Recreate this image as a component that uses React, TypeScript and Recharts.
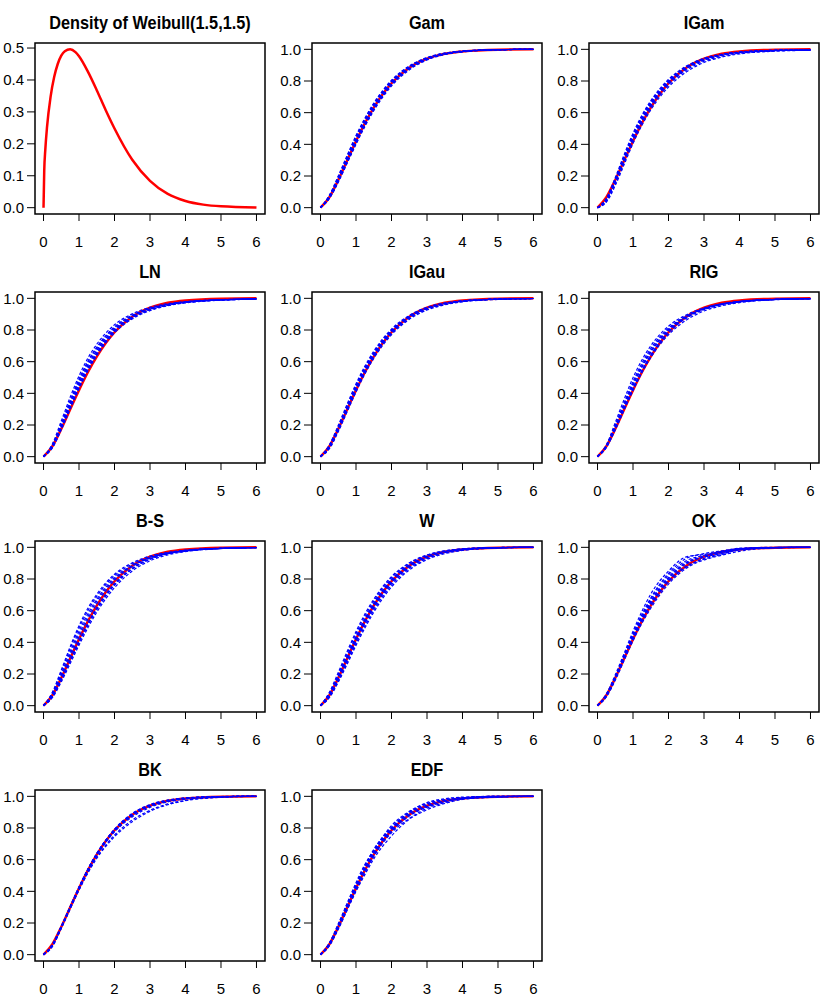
import React from "react";
import { LineChart, Line, XAxis, YAxis, ReferenceArea } from "recharts";

const FONT = '"Liberation Sans", Arial, Helvetica, sans-serif';

const xGrid = [0, 0.25, 0.5, 0.75, 1, 1.25, 1.5, 2, 2.5, 3, 3.5, 4, 5, 6];
const trueCdf = [0, 0.066, 0.175, 0.298, 0.42, 0.533, 0.632, 0.786, 0.884, 0.941, 0.972, 0.987, 0.998, 1];

// density panel
const densityX = [0, 0.02, 0.05, 0.1, 0.2, 0.3, 0.4, 0.5, 0.6, 0.75, 0.9, 1, 1.25, 1.5, 1.75, 2, 2.5, 3, 3.5, 4, 4.5, 5, 6];
const densityY = [0, 0.115, 0.181, 0.254, 0.348, 0.409, 0.45, 0.476, 0.49, 0.496, 0.487, 0.474, 0.426, 0.368, 0.306, 0.248, 0.15, 0.084, 0.043, 0.021, 0.0096, 0.0042, 0.0007];

const xTicks = [0, 1, 2, 3, 4, 5, 6];
const cdfTicks = [0, 0.2, 0.4, 0.6, 0.8, 1];
const densTicks = [0, 0.1, 0.2, 0.3, 0.4, 0.5];

// fitted CDFs (blue dashed), one row per replicate
const gamFits = [
  [0, 0.075, 0.195, 0.325, 0.45, 0.56, 0.655, 0.8, 0.892, 0.946, 0.975, 0.989, 0.998, 1],
  [0, 0.06, 0.165, 0.285, 0.405, 0.52, 0.62, 0.775, 0.876, 0.936, 0.969, 0.985, 0.997, 1],
  [0, 0.08, 0.2, 0.33, 0.455, 0.565, 0.66, 0.805, 0.895, 0.948, 0.976, 0.989, 0.998, 1],
  [0, 0.058, 0.16, 0.28, 0.4, 0.512, 0.612, 0.768, 0.87, 0.933, 0.967, 0.984, 0.997, 1],
  [0, 0.07, 0.185, 0.312, 0.435, 0.548, 0.645, 0.796, 0.889, 0.944, 0.973, 0.988, 0.998, 1],
  [0, 0.064, 0.17, 0.292, 0.414, 0.527, 0.626, 0.78, 0.88, 0.939, 0.971, 0.986, 0.998, 1],
  [0, 0.068, 0.18, 0.302, 0.425, 0.538, 0.636, 0.79, 0.886, 0.942, 0.972, 0.987, 0.998, 1],
  [0, 0.072, 0.19, 0.318, 0.442, 0.553, 0.65, 0.798, 0.89, 0.945, 0.974, 0.988, 0.998, 1],
  [0, 0.062, 0.168, 0.29, 0.41, 0.522, 0.622, 0.778, 0.878, 0.938, 0.97, 0.986, 0.997, 1],
];
const igamFits = [
  [0, 0.05, 0.17, 0.31, 0.445, 0.56, 0.655, 0.795, 0.885, 0.938, 0.966, 0.981, 0.993, 0.997],
  [0, 0.04, 0.15, 0.285, 0.42, 0.535, 0.632, 0.775, 0.868, 0.925, 0.957, 0.975, 0.99, 0.995],
  [0, 0.06, 0.19, 0.335, 0.47, 0.583, 0.675, 0.81, 0.894, 0.943, 0.969, 0.983, 0.994, 0.997],
  [0, 0.045, 0.16, 0.298, 0.432, 0.548, 0.645, 0.785, 0.876, 0.931, 0.962, 0.978, 0.992, 0.996],
  [0, 0.055, 0.182, 0.325, 0.46, 0.575, 0.668, 0.805, 0.89, 0.941, 0.968, 0.982, 0.994, 0.997],
  [0, 0.035, 0.14, 0.272, 0.405, 0.52, 0.617, 0.762, 0.857, 0.917, 0.951, 0.971, 0.988, 0.994],
  [0, 0.05, 0.172, 0.312, 0.44, 0.552, 0.648, 0.79, 0.88, 0.934, 0.964, 0.98, 0.993, 0.997],
  [0, 0.045, 0.165, 0.305, 0.438, 0.552, 0.65, 0.792, 0.882, 0.935, 0.965, 0.98, 0.993, 0.997],
  [0, 0.055, 0.178, 0.318, 0.452, 0.566, 0.66, 0.798, 0.886, 0.938, 0.966, 0.981, 0.993, 0.997],
];
const lnFits = [
  [0, 0.07, 0.2, 0.345, 0.48, 0.595, 0.685, 0.815, 0.89, 0.935, 0.961, 0.976, 0.99, 0.996],
  [0, 0.06, 0.18, 0.315, 0.445, 0.56, 0.655, 0.795, 0.878, 0.928, 0.957, 0.974, 0.989, 0.995],
  [0, 0.075, 0.21, 0.355, 0.49, 0.603, 0.692, 0.82, 0.894, 0.938, 0.963, 0.978, 0.991, 0.996],
  [0, 0.055, 0.17, 0.3, 0.428, 0.542, 0.638, 0.782, 0.87, 0.922, 0.953, 0.971, 0.988, 0.995],
  [0, 0.065, 0.19, 0.33, 0.462, 0.577, 0.67, 0.805, 0.884, 0.932, 0.959, 0.975, 0.99, 0.996],
  [0, 0.08, 0.225, 0.375, 0.51, 0.622, 0.71, 0.833, 0.902, 0.943, 0.966, 0.98, 0.992, 0.997],
  [0, 0.066, 0.186, 0.318, 0.448, 0.562, 0.656, 0.796, 0.88, 0.93, 0.958, 0.975, 0.99, 0.996],
  [0, 0.07, 0.195, 0.335, 0.467, 0.58, 0.672, 0.806, 0.885, 0.933, 0.96, 0.976, 0.99, 0.996],
  [0, 0.062, 0.178, 0.31, 0.438, 0.552, 0.648, 0.79, 0.875, 0.926, 0.956, 0.973, 0.989, 0.995],
];
const igauFits = [
  [0, 0.06, 0.175, 0.305, 0.432, 0.546, 0.644, 0.79, 0.882, 0.936, 0.966, 0.982, 0.995, 0.999],
  [0, 0.07, 0.19, 0.322, 0.45, 0.562, 0.658, 0.8, 0.888, 0.94, 0.968, 0.983, 0.995, 0.999],
  [0, 0.055, 0.165, 0.292, 0.418, 0.531, 0.63, 0.778, 0.873, 0.93, 0.962, 0.98, 0.994, 0.998],
  [0, 0.075, 0.198, 0.332, 0.46, 0.572, 0.666, 0.806, 0.892, 0.943, 0.97, 0.984, 0.996, 0.999],
  [0, 0.05, 0.158, 0.283, 0.408, 0.522, 0.62, 0.77, 0.867, 0.926, 0.959, 0.978, 0.993, 0.998],
  [0, 0.065, 0.182, 0.312, 0.44, 0.553, 0.65, 0.794, 0.885, 0.938, 0.967, 0.982, 0.995, 0.999],
  [0, 0.066, 0.178, 0.302, 0.426, 0.54, 0.638, 0.787, 0.882, 0.937, 0.967, 0.983, 0.995, 0.999],
  [0, 0.062, 0.172, 0.298, 0.422, 0.535, 0.634, 0.784, 0.879, 0.935, 0.966, 0.982, 0.995, 0.999],
  [0, 0.07, 0.185, 0.315, 0.443, 0.556, 0.652, 0.796, 0.886, 0.939, 0.968, 0.983, 0.995, 0.999],
];
const rigFits = [
  [0, 0.07, 0.2, 0.34, 0.475, 0.59, 0.683, 0.812, 0.888, 0.935, 0.963, 0.979, 0.993, 0.998],
  [0, 0.06, 0.175, 0.305, 0.43, 0.543, 0.64, 0.784, 0.874, 0.928, 0.959, 0.977, 0.992, 0.997],
  [0, 0.075, 0.215, 0.362, 0.498, 0.61, 0.7, 0.824, 0.895, 0.94, 0.966, 0.981, 0.994, 0.998],
  [0, 0.058, 0.17, 0.295, 0.418, 0.53, 0.626, 0.77, 0.862, 0.92, 0.953, 0.973, 0.991, 0.997],
  [0, 0.065, 0.188, 0.322, 0.452, 0.567, 0.662, 0.8, 0.882, 0.933, 0.962, 0.978, 0.993, 0.998],
  [0, 0.068, 0.195, 0.33, 0.462, 0.576, 0.67, 0.805, 0.884, 0.934, 0.962, 0.979, 0.993, 0.998],
  [0, 0.066, 0.18, 0.305, 0.43, 0.543, 0.64, 0.788, 0.878, 0.932, 0.962, 0.979, 0.993, 0.998],
  [0, 0.064, 0.176, 0.3, 0.424, 0.537, 0.635, 0.785, 0.879, 0.934, 0.964, 0.98, 0.993, 0.998],
  [0, 0.07, 0.19, 0.322, 0.45, 0.563, 0.658, 0.798, 0.882, 0.933, 0.962, 0.979, 0.993, 0.998],
];
const bsFits = [
  [0, 0.08, 0.215, 0.36, 0.49, 0.6, 0.69, 0.82, 0.895, 0.94, 0.966, 0.981, 0.994, 0.998],
  [0, 0.05, 0.15, 0.265, 0.382, 0.492, 0.59, 0.745, 0.85, 0.915, 0.952, 0.973, 0.992, 0.998],
  [0, 0.072, 0.2, 0.34, 0.47, 0.58, 0.672, 0.808, 0.886, 0.934, 0.962, 0.978, 0.993, 0.998],
  [0, 0.06, 0.168, 0.29, 0.41, 0.522, 0.62, 0.772, 0.87, 0.929, 0.961, 0.978, 0.993, 0.998],
  [0, 0.085, 0.225, 0.372, 0.505, 0.615, 0.703, 0.83, 0.902, 0.945, 0.968, 0.982, 0.995, 0.999],
  [0, 0.055, 0.16, 0.278, 0.395, 0.507, 0.605, 0.76, 0.862, 0.924, 0.958, 0.976, 0.993, 0.998],
  [0, 0.065, 0.182, 0.31, 0.435, 0.548, 0.645, 0.792, 0.88, 0.932, 0.962, 0.978, 0.993, 0.998],
  [0, 0.058, 0.165, 0.285, 0.404, 0.515, 0.612, 0.765, 0.865, 0.926, 0.96, 0.977, 0.993, 0.998],
  [0, 0.07, 0.192, 0.325, 0.452, 0.564, 0.66, 0.8, 0.883, 0.933, 0.962, 0.978, 0.993, 0.998],
];
const wFits = [
  [0, 0.08, 0.2, 0.33, 0.455, 0.565, 0.66, 0.808, 0.898, 0.95, 0.977, 0.99, 0.999, 1],
  [0, 0.055, 0.155, 0.272, 0.392, 0.503, 0.603, 0.762, 0.866, 0.929, 0.964, 0.982, 0.996, 1],
  [0, 0.072, 0.188, 0.315, 0.438, 0.55, 0.648, 0.798, 0.891, 0.946, 0.975, 0.989, 0.998, 1],
  [0, 0.06, 0.165, 0.285, 0.405, 0.517, 0.615, 0.772, 0.873, 0.934, 0.967, 0.984, 0.997, 1],
  [0, 0.085, 0.21, 0.342, 0.468, 0.578, 0.672, 0.815, 0.902, 0.952, 0.978, 0.991, 0.999, 1],
  [0, 0.05, 0.148, 0.262, 0.38, 0.49, 0.59, 0.75, 0.857, 0.923, 0.96, 0.98, 0.996, 1],
  [0, 0.066, 0.176, 0.3, 0.422, 0.534, 0.632, 0.786, 0.884, 0.941, 0.972, 0.987, 0.998, 1],
  [0, 0.07, 0.182, 0.308, 0.43, 0.542, 0.64, 0.792, 0.887, 0.943, 0.973, 0.988, 0.998, 1],
  [0, 0.062, 0.17, 0.292, 0.413, 0.525, 0.623, 0.778, 0.879, 0.938, 0.97, 0.986, 0.997, 1],
];
const okFits = [
  [0, 0.07, 0.185, 0.32, 0.455, 0.575, 0.68, 0.835, 0.93, 0.96, 0.978, 0.992, 0.999, 1],
  [0, 0.06, 0.17, 0.3, 0.425, 0.54, 0.638, 0.79, 0.88, 0.925, 0.955, 0.985, 0.998, 1],
  [0, 0.075, 0.195, 0.33, 0.47, 0.595, 0.705, 0.85, 0.94, 0.955, 0.975, 0.995, 1, 1],
  [0, 0.055, 0.16, 0.285, 0.41, 0.52, 0.615, 0.768, 0.868, 0.92, 0.95, 0.975, 0.996, 1],
  [0, 0.068, 0.18, 0.31, 0.44, 0.558, 0.66, 0.812, 0.905, 0.945, 0.97, 0.99, 0.999, 1],
  [0, 0.062, 0.175, 0.305, 0.432, 0.548, 0.65, 0.805, 0.9, 0.938, 0.96, 0.983, 0.998, 1],
  [0, 0.066, 0.178, 0.305, 0.432, 0.55, 0.652, 0.8, 0.895, 0.942, 0.968, 0.988, 0.998, 1],
  [0, 0.064, 0.172, 0.298, 0.42, 0.532, 0.63, 0.782, 0.875, 0.93, 0.962, 0.985, 0.998, 1],
  [0, 0.07, 0.185, 0.318, 0.448, 0.568, 0.672, 0.825, 0.915, 0.95, 0.972, 0.99, 0.999, 1],
];
const bkFits = [
  [0, 0.06, 0.175, 0.3, 0.425, 0.54, 0.64, 0.79, 0.884, 0.94, 0.972, 0.988, 0.998, 1],
  [0, 0.055, 0.168, 0.29, 0.41, 0.52, 0.615, 0.755, 0.85, 0.912, 0.952, 0.975, 0.995, 1],
  [0, 0.065, 0.18, 0.305, 0.428, 0.54, 0.637, 0.788, 0.887, 0.944, 0.974, 0.988, 0.998, 1],
  [0, 0.05, 0.165, 0.288, 0.408, 0.515, 0.608, 0.745, 0.84, 0.905, 0.947, 0.972, 0.994, 1],
  [0, 0.062, 0.176, 0.3, 0.424, 0.538, 0.636, 0.793, 0.892, 0.948, 0.976, 0.99, 0.999, 1],
  [0, 0.058, 0.17, 0.295, 0.418, 0.53, 0.628, 0.775, 0.87, 0.93, 0.965, 0.983, 0.997, 1],
  [0, 0.06, 0.174, 0.298, 0.422, 0.535, 0.633, 0.785, 0.882, 0.94, 0.971, 0.987, 0.998, 1],
  [0, 0.058, 0.172, 0.296, 0.42, 0.533, 0.63, 0.78, 0.877, 0.936, 0.969, 0.986, 0.998, 1],
  [0, 0.064, 0.178, 0.302, 0.426, 0.54, 0.638, 0.79, 0.888, 0.945, 0.974, 0.989, 0.998, 1],
];
const edfFits = [
  [0, 0.07, 0.185, 0.32, 0.44, 0.56, 0.665, 0.8, 0.9, 0.955, 0.98, 0.99, 1, 1],
  [0, 0.06, 0.165, 0.285, 0.405, 0.515, 0.62, 0.77, 0.86, 0.925, 0.96, 0.985, 0.995, 1],
  [0, 0.075, 0.195, 0.325, 0.455, 0.57, 0.66, 0.815, 0.905, 0.96, 0.985, 0.995, 1, 1],
  [0, 0.055, 0.16, 0.28, 0.4, 0.505, 0.605, 0.75, 0.855, 0.915, 0.955, 0.98, 0.995, 1],
  [0, 0.065, 0.18, 0.31, 0.43, 0.55, 0.65, 0.795, 0.895, 0.945, 0.975, 0.99, 1, 1],
  [0, 0.068, 0.178, 0.3, 0.425, 0.54, 0.635, 0.785, 0.88, 0.935, 0.968, 0.985, 0.998, 1],
  [0, 0.066, 0.178, 0.305, 0.428, 0.545, 0.645, 0.79, 0.888, 0.94, 0.972, 0.988, 0.998, 1],
  [0, 0.062, 0.17, 0.292, 0.415, 0.528, 0.628, 0.778, 0.875, 0.932, 0.965, 0.985, 0.997, 1],
  [0, 0.072, 0.19, 0.318, 0.445, 0.562, 0.655, 0.805, 0.898, 0.952, 0.978, 0.99, 1, 1],
];

const panels = [
  { title: "Gam", fits: gamFits },
  { title: "IGam", fits: igamFits },
  { title: "LN", fits: lnFits },
  { title: "IGau", fits: igauFits },
  { title: "RIG", fits: rigFits },
  { title: "B-S", fits: bsFits },
  { title: "W", fits: wFits },
  { title: "OK", fits: okFits },
  { title: "BK", fits: bkFits },
  { title: "EDF", fits: edfFits },
];

const CW = 277;
const CH = 255;
const colLeft = [0, 277, 554];
const rowTop = [0, 249, 498, 747];
const X_DOM: [number, number] = [-0.24, 6.24];
const CDF_DOM: [number, number] = [-0.04, 1.04];
const DENS_DOM: [number, number] = [-0.0198, 0.5158];

const tickStyle = { fill: "#000", fontSize: 15, fontFamily: FONT };

function Title({ text, left, top }: { text: string; left: number; top: number }) {
  return (
    <div
      style={{
        position: "absolute",
        left: left + 35,
        top: top + 13,
        width: 230,
        textAlign: "center",
        fontFamily: FONT,
        fontWeight: "bold",
        fontSize: 18.5,
        lineHeight: "20px",
        transform: "scaleX(0.88)",
      }}
    >
      {text}
    </div>
  );
}

function Frame({ data, yDomain, yTicks, children }: any) {
  return (
    <LineChart width={CW} height={CH} data={data} margin={{ top: 43, right: 12, bottom: 6, left: 0 }}>
      <XAxis
        dataKey="x"
        type="number"
        domain={X_DOM}
        ticks={xTicks}
        interval={0}
        allowDataOverflow
        axisLine={false}
        tickLine={{ stroke: "#000" }}
        tickSize={7}
        tickMargin={15}
        height={35}
        tick={tickStyle}
      />
      <YAxis
        type="number"
        domain={yDomain}
        ticks={yTicks}
        interval={0}
        allowDataOverflow
        axisLine={false}
        tickLine={{ stroke: "#000" }}
        tickSize={8}
        tickMargin={3}
        width={35}
        tick={tickStyle}
        tickFormatter={(v: number) => v.toFixed(1)}
      />
      {children}
      <ReferenceArea
        x1={X_DOM[0]}
        x2={X_DOM[1]}
        y1={yDomain[0]}
        y2={yDomain[1]}
        fill="none"
        fillOpacity={0}
        stroke="#000"
        strokeWidth={1.5}
        ifOverflow="visible"
      />
    </LineChart>
  );
}

function CdfPanel({ fits, left, top }: any) {
  const data = xGrid.map((x, i) => {
    const row: any = { x, truth: trueCdf[i] };
    fits.forEach((f: number[], k: number) => {
      row["f" + k] = f[i];
    });
    return row;
  });
  return (
    <div style={{ position: "absolute", left, top }}>
      <Frame data={data} yDomain={CDF_DOM} yTicks={cdfTicks}>
        <Line dataKey="truth" type="monotone" stroke="#ff0000" strokeWidth={2.5} dot={false} isAnimationActive={false} />
        {fits.map((_: number[], k: number) => (
          <Line
            key={k}
            dataKey={"f" + k}
            type="monotone"
            stroke="#0000ff"
            strokeWidth={1.2}
            strokeDasharray="3 2"
            dot={false}
            isAnimationActive={false}
          />
        ))}
      </Frame>
    </div>
  );
}

function DensityPanel({ left, top }: any) {
  const data = densityX.map((x, i) => ({ x, y: densityY[i] }));
  return (
    <div style={{ position: "absolute", left, top }}>
      <Frame data={data} yDomain={DENS_DOM} yTicks={densTicks}>
        <Line dataKey="y" type="monotone" stroke="#ff0000" strokeWidth={2.5} dot={false} isAnimationActive={false} />
      </Frame>
    </div>
  );
}

export default function App() {
  return (
    <div
      style={{
        position: "absolute",
        left: 0,
        top: 0,
        width: 830,
        height: 997,
        overflow: "hidden",
        background: "#fff",
        fontFamily: FONT,
      }}
    >
      <DensityPanel left={colLeft[0]} top={rowTop[0]} />
      <Title text="Density of Weibull(1.5,1.5)" left={colLeft[0]} top={rowTop[0]} />
      {panels.map((p, i) => {
        const slot = i + 1;
        const left = colLeft[slot % 3];
        const top = rowTop[Math.floor(slot / 3)];
        return (
          <React.Fragment key={p.title}>
            <CdfPanel fits={p.fits} left={left} top={top} />
            <Title text={p.title} left={left} top={top} />
          </React.Fragment>
        );
      })}
    </div>
  );
}
